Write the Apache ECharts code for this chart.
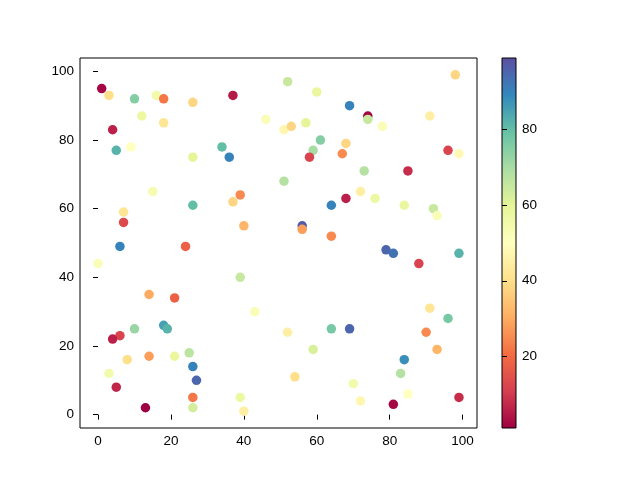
<!DOCTYPE html>
<html>
<head>
<meta charset="utf-8">
<script src="https://cdn.jsdelivr.net/npm/echarts@6/dist/echarts.min.js"></script>
<style>
html,body{margin:0;padding:0;background:#fff;}
#main{width:640px;height:480px;}
</style>
</head>
<body>
<div id="main"></div>
<script>
// 散点数据（x, y, 颜色值）
var xs = [1,3,10,16,18,26,37,12,18,46,4,5,9,34,36,26,15,39,37,26,7,7,40,6,24,
  52,98,60,69,74,74,78,91,51,53,57,61,59,58,68,67,96,99,73,85,51,72,76,84,92,93,64,68,56,56,64,
  0,39,14,21,43,18,19,10,6,4,14,8,21,25,26,27,3,5,26,26,13,39,40,
  79,81,88,99,91,96,52,64,69,90,93,59,84,83,54,70,85,72,81,99];
var ys = [95,93,92,93,92,91,93,87,85,86,83,77,78,78,75,75,65,64,62,61,59,56,55,49,49,
  97,99,94,90,87,86,84,87,83,84,85,80,77,75,79,76,77,76,71,71,68,65,63,61,60,58,61,63,55,54,52,
  44,40,35,34,30,26,25,25,23,22,17,16,17,18,14,10,12,8,5,2,2,5,1,
  48,47,44,47,31,28,24,25,25,24,19,19,16,12,11,9,6,4,3,5];
var cs = [2,40,75,55,22,38,5,57,42,52,6,82,50,80,90,60,54,25,38,80,42,13,32,90,18,
  65,38,58,90,2,65,52,45,47,38,60,75,70,12,38,25,12,48,68,8,68,45,57,58,65,52,90,6,97,28,25,
  52,65,30,18,52,85,82,72,12,6,28,40,58,67,90,95,55,7,22,63,1,57,45,
  95,93,12,82,42,77,45,77,95,25,32,62,88,68,40,55,50,47,2,8];
var xTicks = [0,20,40,60,80,100];
var yTicks = [0,20,40,60,80,100];
var cbTicks = [20,40,60,80];
var cMin = 1, cMax = 99;
var spectral = ['#9e0142','#d53e4f','#f46d43','#fdae61','#fee08b','#ffffbf',
  '#e6f598','#abdda4','#66c2a5','#3288bd','#5e4fa2'];

var points = xs.map(function(x, i){ return [x, ys[i], cs[i]]; });

// 色条渐变（上高下低）
var stops = spectral.map(function(c, i){
  return {offset: 1 - i / (spectral.length - 1), color: c};
});

var font = 'Liberation Sans';
var myChart = echarts.init(document.getElementById('main'));
option = {
  backgroundColor: '#fff',
  animation: false,
  grid: [{
    left: 80, right: 163, top: 58, bottom: 52,
    show: true, borderColor: '#000', borderWidth: 1
  }, {
    left: 502, width: 14, top: 58, bottom: 52,
    show: true, borderColor: '#000', borderWidth: 1,
    backgroundColor: new echarts.graphic.LinearGradient(0, 0, 0, 1, stops)
  }],
  xAxis: [{
    gridIndex: 0, type: 'value', min: -4.95, max: 103.95,
    axisLine: {show: false},
    splitLine: {show: false},
    axisTick: {show: true, length: 5, lineStyle: {color: '#000'}, customValues: xTicks},
    axisLabel: {color: '#000', fontFamily: font, fontSize: 13.5, margin: 6, customValues: xTicks}
  }, {
    gridIndex: 1, type: 'value', min: 0, max: 1, show: false
  }],
  yAxis: [{
    gridIndex: 0, type: 'value', min: -3.9, max: 103.9,
    axisLine: {show: false},
    splitLine: {show: false},
    axisTick: {show: true, length: 5, lineStyle: {color: '#000'}, customValues: yTicks},
    axisLabel: {color: '#000', fontFamily: font, fontSize: 13.5, margin: 6, customValues: yTicks}
  }, {
    gridIndex: 1, type: 'value', min: cMin, max: cMax, position: 'right',
    axisLine: {show: false},
    splitLine: {show: false},
    axisTick: {show: true, length: 5, lineStyle: {color: '#000'}, customValues: cbTicks},
    axisLabel: {color: '#000', fontFamily: font, fontSize: 13.5, margin: 6, customValues: cbTicks}
  }],
  visualMap: {
    show: false, type: 'continuous', dimension: 2, seriesIndex: 0,
    min: cMin, max: cMax,
    inRange: {color: spectral}
  },
  series: [{
    type: 'scatter',
    xAxisIndex: 0, yAxisIndex: 0,
    symbolSize: 9.5,
    itemStyle: {opacity: 1},
    data: points
  }]
};
myChart.setOption(option);
</script>
</body>
</html>
